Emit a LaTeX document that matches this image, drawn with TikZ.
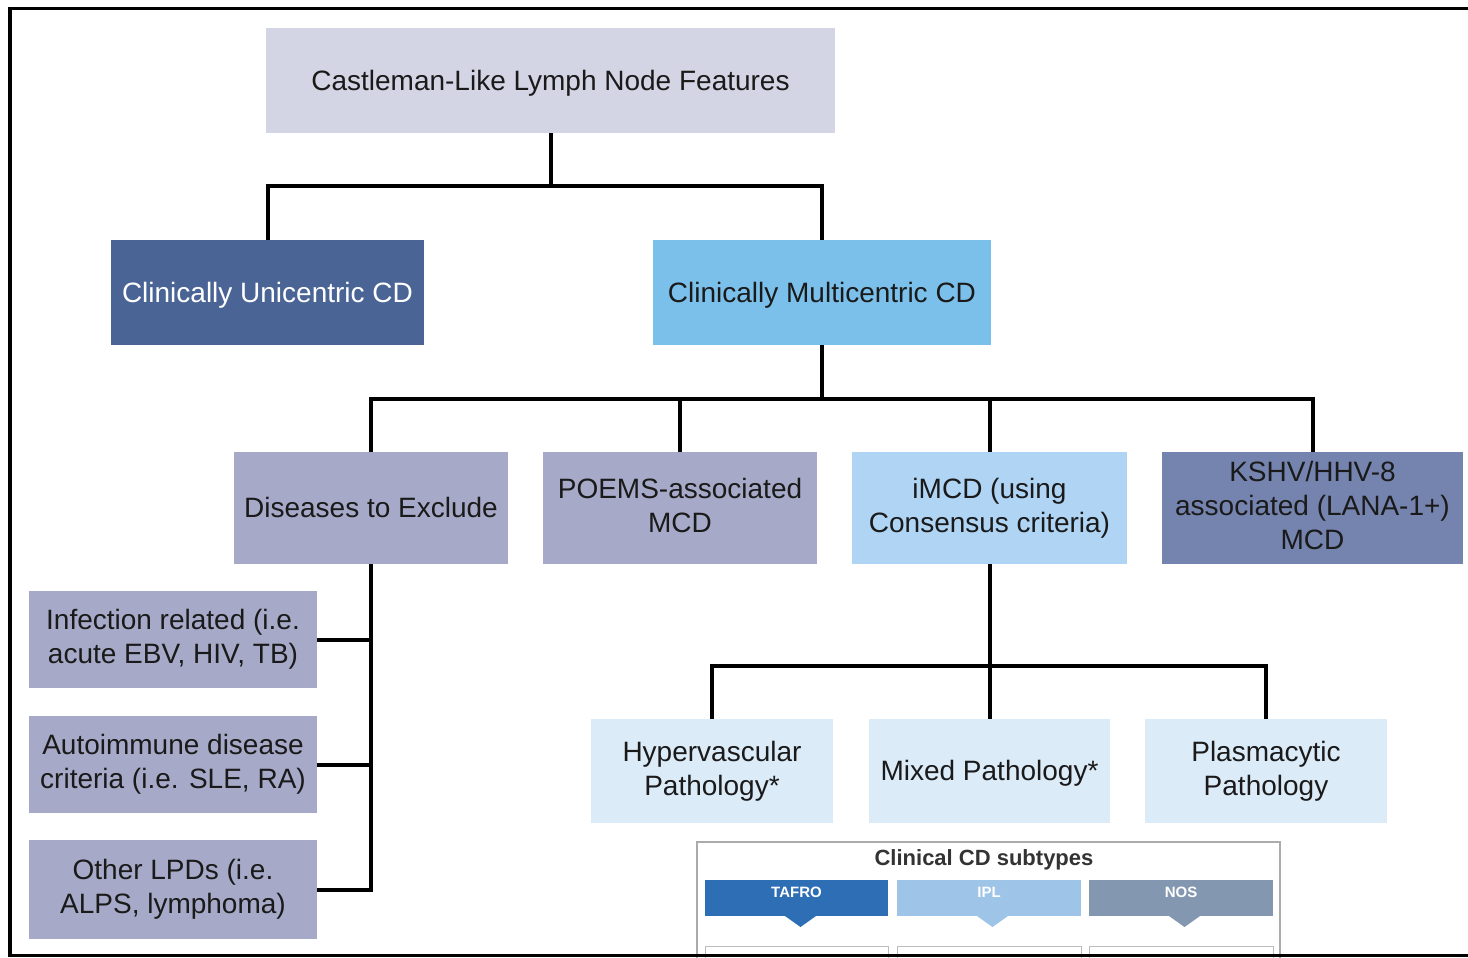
\documentclass[tikz,border=0pt]{standalone}
\usepackage{fontspec}
\setmainfont{Liberation Sans}
\usetikzlibrary{calc}
\definecolor{topc}{HTML}{D3D4E4}
\definecolor{unic}{HTML}{4A6595}
\definecolor{multc}{HTML}{7BC0EA}
\definecolor{greyc}{HTML}{A6AAC8}
\definecolor{imcdc}{HTML}{AFD4F4}
\definecolor{kshvc}{HTML}{7584AF}
\definecolor{pathc}{HTML}{DCEBF8}
\definecolor{tafroc}{HTML}{2E6EB5}
\definecolor{iplc}{HTML}{9EC4E7}
\definecolor{nosc}{HTML}{8497B1}
\definecolor{panelc}{HTML}{ABABAB}
\definecolor{txtc}{HTML}{1A1A1A}
\begin{document}
\begin{tikzpicture}[x=1pt,y=-1pt,
  box/.style={inner sep=0pt, align=center, font=\fontsize{28}{34}\selectfont, text=txtc,
    execute at begin node={\rule{0pt}{25.3pt}},
    execute at end node={\rule[-5.9pt]{0pt}{5.9pt}}},
  conn/.style={line width=4pt, line join=miter},
  subhead/.style={inner sep=0pt, font=\bfseries\fontsize{15}{18}\selectfont, text=white},
  panelline/.style={draw=panelc, line width=1.2pt},
]
\useasboundingbox (0,0) rectangle (1468,958);
% nodes
\node[box, fill=topc, minimum width=569pt, minimum height=105pt] (top) at (550.5,80.5) {Castleman-Like Lymph Node Features};
\node[box, fill=unic, text=white, minimum width=313pt, minimum height=105pt] (uni) at (267.5,292.5) {Clinically Unicentric CD};
\node[box, fill=multc, minimum width=338pt, minimum height=105pt] (multi) at (822,292.5) {Clinically Multicentric CD};
\node[box, fill=greyc, minimum width=274pt, minimum height=112pt] (dis) at (371,508) {Diseases to Exclude};
\node[box, fill=greyc, minimum width=274pt, minimum height=112pt] (poems) at (680,508) {POEMS-associated\\MCD};
\node[box, fill=imcdc, minimum width=275pt, minimum height=112pt] (imcd) at (989.5,508) {iMCD (using\\Consensus criteria)};
\node[box, fill=kshvc, minimum width=301pt, minimum height=112pt] (kshv) at (1312.5,508) {KSHV/HHV-8\\associated (LANA-1+)\\MCD};
\node[box, fill=greyc, minimum width=288pt, minimum height=97pt] (inf) at (173,639.5) {Infection related (i.e.\\acute EBV, HIV, TB)};
\node[box, fill=greyc, minimum width=288pt, minimum height=97pt] (auto) at (173,764.5) {Autoimmune disease\\criteria (i.e. SLE, RA)};
\node[box, fill=greyc, minimum width=288pt, minimum height=99pt] (other) at (173,889.5) {Other LPDs (i.e.\\ALPS, lymphoma)};
\node[box, fill=pathc, minimum width=242pt, minimum height=104pt] (hyper) at (712,771) {Hypervascular\\Pathology*};
\node[box, fill=pathc, minimum width=241pt, minimum height=104pt] (mixed) at (989.5,771) {Mixed Pathology*};
\node[box, fill=pathc, minimum width=242pt, minimum height=104pt] (plasma) at (1266,771) {Plasmacytic\\Pathology};
% junctions
\coordinate (j1) at (550.5,186);
\coordinate (j2) at (822,399);
\coordinate (j3) at (989.5,666);
% connectors
\draw[conn] (top.south) -- (j1);
\draw[conn] (uni.north) |- (j1) -| (multi.north);
\draw[conn] (multi.south) -- (j2);
\draw[conn] (dis.north) |- (j2) -| (kshv.north);
\draw[conn] (poems.north) -- (poems.north |- j2);
\draw[conn] (imcd.north) -- (imcd.north |- j2);
\draw[conn] (inf.east) -| (dis.south);
\draw[conn] (auto.east) -- (auto.east -| dis.south);
\draw[conn] (other.east) -| (dis.south);
\draw[conn] (imcd.south) -- (j3);
\draw[conn] (hyper.north) |- (j3) -| (plasma.north);
\draw[conn] (mixed.north) -- (j3);
% clinical subtypes panel
\fill[white] (697,842) rectangle (1280,970);
\draw[panelline] (697,975) -- (697,842) -- (1280,842) -- (1280,975);
\node[inner sep=0pt, font=\bfseries\fontsize{22}{25}\selectfont, text=black!80] (ptitle) at (984,860) {Clinical CD subtypes};
\fill[tafroc] (705,880) rectangle (888,916);
\fill[tafroc] (785,916) -- (800.5,927) -- (816,916) -- cycle;
\fill[iplc] (897,880) rectangle (1081,916);
\fill[iplc] (977,916) -- (992.5,927) -- (1008,916) -- cycle;
\fill[nosc] (1089,880) rectangle (1273,916);
\fill[nosc] (1169,916) -- (1184.5,927) -- (1200,916) -- cycle;
\node[subhead] (tafro) at (796.5,892) {TAFRO};
\node[subhead] (ipl) at (989,892) {IPL};
\node[subhead] (nos) at (1181,892) {NOS};
\draw[draw=panelc!80, line width=1pt] (705,975) -- (705,946) -- (888,946) -- (888,975);
\draw[draw=panelc!80, line width=1pt] (897,975) -- (897,946) -- (1081,946) -- (1081,975);
\draw[draw=panelc!80, line width=1pt] (1089,975) -- (1089,946) -- (1273,946) -- (1273,975);
% outer frame
\draw[line width=3.5pt, line join=miter] (1490,8.5) -- (10,8.5) -- (10,955.5) -- (1490,955.5);
\end{tikzpicture}
\end{document}
